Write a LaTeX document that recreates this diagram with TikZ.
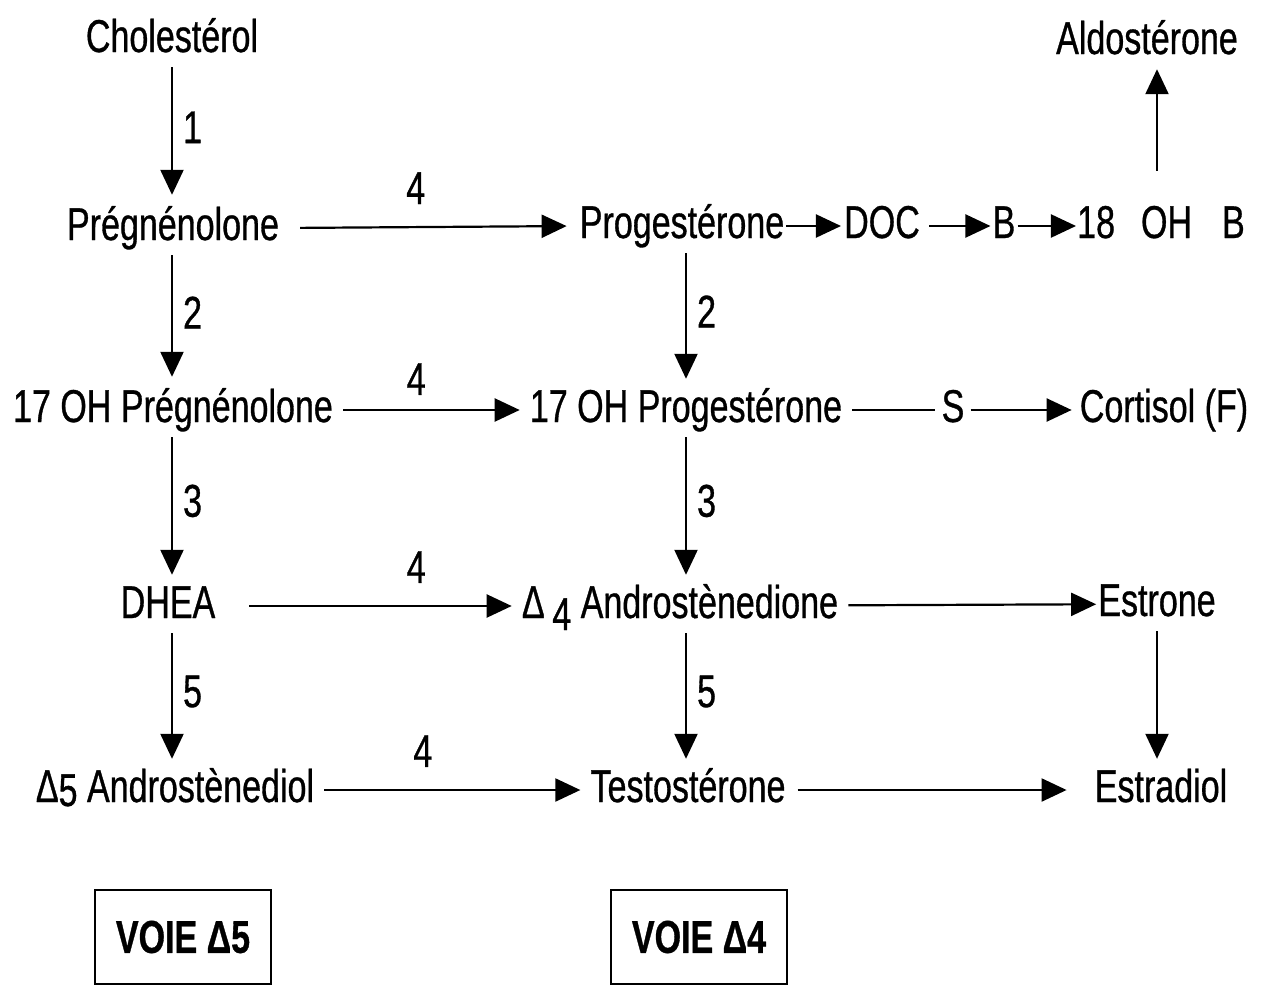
\documentclass[tikz,border=0pt]{standalone}
\usepackage{fontspec}
\setmainfont{Liberation Sans}[FakeStretch=0.74, FakeBold=0.7]
\usetikzlibrary{arrows.meta}
\begin{document}
\begin{tikzpicture}[x=1pt,y=-1pt,
  lbl/.style={font=\fontsize{46}{50}\selectfont, inner xsep=4pt, inner ysep=6pt, text height=33pt, text depth=9pt, anchor=center},
  num/.style={font=\fontsize{46}{50}\selectfont, inner sep=0pt},
  arr/.style={line width=2.2pt, -{Triangle[length=25pt,width=23pt]}},
  ln/.style={line width=2.2pt},
  voie/.style={draw, line width=2.2pt, minimum width=176pt, minimum height=94pt, font=\bfseries\fontsize{46}{50}\selectfont, inner sep=0pt}
]
\useasboundingbox (0,0) rectangle (1261,985);
% columns
\coordinate (colL) at (172,0);
\coordinate (colM) at (686,0);
\coordinate (colR) at (1157,0);
% row 1
\node[lbl] (chol) at (172,40) {Cholestérol};
\node[lbl] (aldo) at (1147,42) {Aldostérone};
% row 2
\node[lbl] (preg) at (173,228) {Prégnénolone};
\node[lbl, inner xsep=2pt] (prog) at (682,226) {Progestérone};
\node[lbl, inner xsep=1pt] (doc) at (882,226) {DOC};
\node[lbl, inner xsep=2pt] (b) at (1004,226) {B};
\node[lbl, inner xsep=1pt] (ohb) at (1161,226) {18\hspace{26pt}OH\hspace{30pt}B};
% row 3
\node[lbl] (ohpreg) at (173,410) {17 OH Prégnénolone};
\node[lbl] (ohprog) at (686,410) {17 OH Progestérone};
\node[lbl, inner xsep=6pt] (s) at (953,410) {S};
\node[lbl] (cort) at (1164,410) {Cortisol (F)};
% row 4
\node[lbl] (dhea) at (168,606) {DHEA};
\node[lbl] (andro) at (680,606) {{\fontsize{46}{46}\selectfont Δ}\,\raisebox{-12pt}{4} Androstènedione};
\node[lbl, inner xsep=2pt] (estrone) at (1157,604) {Estrone};
% row 5
\node[lbl] (androdiol) at (175,790) {Δ\raisebox{-4pt}{5} Androstènediol};
\node[lbl] (testo) at (688,790) {Testostérone};
\node[lbl] (estradiol) at (1161,790) {Estradiol};
% boxes
\node[voie] (v5) at (183,937) {VOIE Δ5};
\node[voie] (v4) at (699,937) {VOIE Δ4};

% vertical arrows left
\draw[arr, shorten >=6pt] (chol.south -| colL) -- node[num, right=10pt, pos=0.45] (n1) {1} (preg.north -| colL);
\draw[arr, shorten >=6pt] (preg.south -| colL) -- node[num, right=10pt, pos=0.45] (n2a) {2} (ohpreg.north -| colL);
\draw[arr, shorten >=4pt] (ohpreg.south -| colL) -- node[num, right=10pt, pos=0.45] (n3a) {3} (dhea.north -| colL);
\draw[arr, shorten >=4pt] (dhea.south -| colL) -- node[num, right=10pt, pos=0.45] (n5a) {5} (androdiol.north -| colL);
% vertical arrows middle
\draw[arr, shorten >=4pt] (prog.south -| colM) -- node[num, right=10pt, pos=0.45] (n2b) {2} (ohprog.north -| colM);
\draw[arr, shorten >=4pt] (ohprog.south -| colM) -- node[num, right=10pt, pos=0.45] (n3b) {3} (andro.north -| colM);
\draw[arr, shorten >=4pt] (andro.south -| colM) -- node[num, right=10pt, pos=0.45] (n5b) {5} (testo.north -| colM);
% right verticals
\draw[arr, shorten >=4pt] (estrone.south -| colR) -- (estradiol.north -| colR);
\draw[arr, shorten <=28pt] (ohb.north -| colR) -- (aldo.south -| colR);

% horizontal arrows
\draw[arr, shorten <=17pt, shorten >=11pt] (preg.east) -- node[num, above=22pt, pos=0.45] (n4a) {4} (prog.west);
\draw[arr, shorten >=2pt] (prog) -- (doc);
\draw[arr, shorten <=8pt] (doc) -- (b);
\draw[arr] (b) -- (ohb);
\draw[arr, shorten <=6pt, shorten >=6pt] (ohpreg) -- node[num, above=14pt, pos=0.42] (n4b) {4} (ohprog);
\draw[ln, shorten <=6pt] (ohprog) -- (s);
\draw[arr, shorten >=4pt] (s) -- (cort);
\draw[arr, shorten <=30pt, shorten >=6pt] (dhea) -- node[num, above=22pt, pos=0.66] (n4c) {4} (andro);
\draw[arr, shorten <=6pt, shorten >=0pt] (andro) -- (estrone);
\draw[arr, shorten <=6pt, shorten >=6pt] (androdiol) -- node[num, above=22pt, pos=0.39] (n4d) {4} (testo);
\draw[arr, shorten <=8pt, shorten >=24pt] (testo) -- (estradiol);
\end{tikzpicture}
\end{document}
